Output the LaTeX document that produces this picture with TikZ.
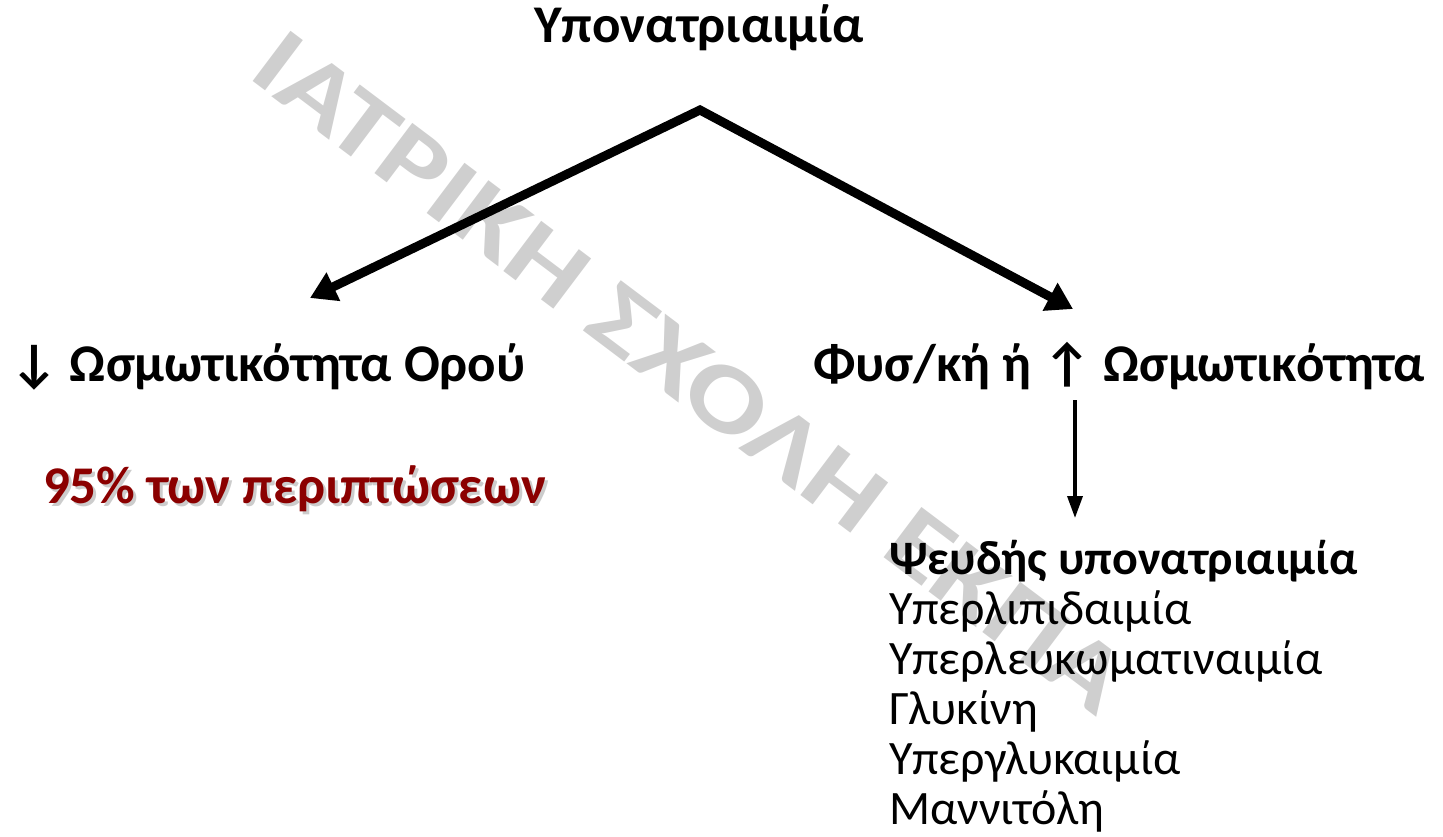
\documentclass[tikz,border=0pt]{standalone}
\usepackage{fontspec}
\setmainfont{Carlito}
\usetikzlibrary{arrows.meta}
\definecolor{wmgray}{HTML}{CFCFCF}
\definecolor{darkred}{HTML}{8B0000}
\tikzset{
  txt/.style={anchor=base west, inner sep=0pt, outer sep=0pt},
  headfont/.style={font=\fontsize{53}{60}\selectfont\bfseries},
  listfont/.style={font=\fontsize{48}{50}\selectfont},
  listbold/.style={font=\fontsize{48}{50}\selectfont\bfseries},
  pctfont/.style={font=\fontsize{53}{60}\selectfont\bfseries},
  bigarrow/.style={line width=9pt, line join=miter, {Triangle[length=26pt,width=30pt]}-{Triangle[length=26pt,width=30pt]}},
  thinarrow/.style={line width=3.5pt, -{Triangle[length=22pt,width=15pt]}},
}
\begin{document}
\begin{tikzpicture}[x=1pt,y=-1pt]
\useasboundingbox (0,0) rectangle (1443,836);
% watermark
\node[rotate=-37, inner sep=0pt, text=wmgray, font=\fontsize{97}{100}\selectfont\bfseries] (wm) at (690,372)
  {\scalebox{1.24}[1]{ΙΑΤΡΙΚΗ ΣΧΟΛΗ ΕΚΠΑ}};
% texts
\node[inner sep=0pt, anchor=base, headfont] (top) at (699,42) {Υπονατριαιμία};
\node[txt, headfont] (left) at (10,381) {↓ Ωσμωτικότητα Ορού};
\node[txt, headfont] (right) at (813,381) {Φυσ/κή ή ↑ Ωσμωτικότητα};
\node[txt, text=gray!40, pctfont] (pctshadow) at (46,506) {95\% των περιπτώσεων};
\node[txt, text=darkred, pctfont] (pct) at (43,503) {95\% των περιπτώσεων};
\node[txt, listbold] (pseudo) at (889,574) {Ψευδής υπονατριαιμία};
\node[txt, listfont] (l1) at (889,624) {Υπερλιπιδαιμία};
\node[txt, listfont] (l2) at (889,674) {Υπερλευκωματιναιμία};
\node[txt, listfont] (l3) at (889,724) {Γλυκίνη};
\node[txt, listfont] (l4) at (889,774) {Υπεργλυκαιμία};
\node[txt, listfont] (l5) at (889,824) {Μαννιτόλη};
% connectors
\coordinate (apex) at (700,110);
\coordinate (ltip) at (310,298);
\coordinate (rtip) at (1073,309);
\coordinate (vtop) at (1075,400);
\coordinate (vtip) at (1075,518);
\draw[bigarrow] (ltip) -- (apex) -- (rtip);
\draw[thinarrow] (vtop) -- (vtip);
\end{tikzpicture}
\end{document}
